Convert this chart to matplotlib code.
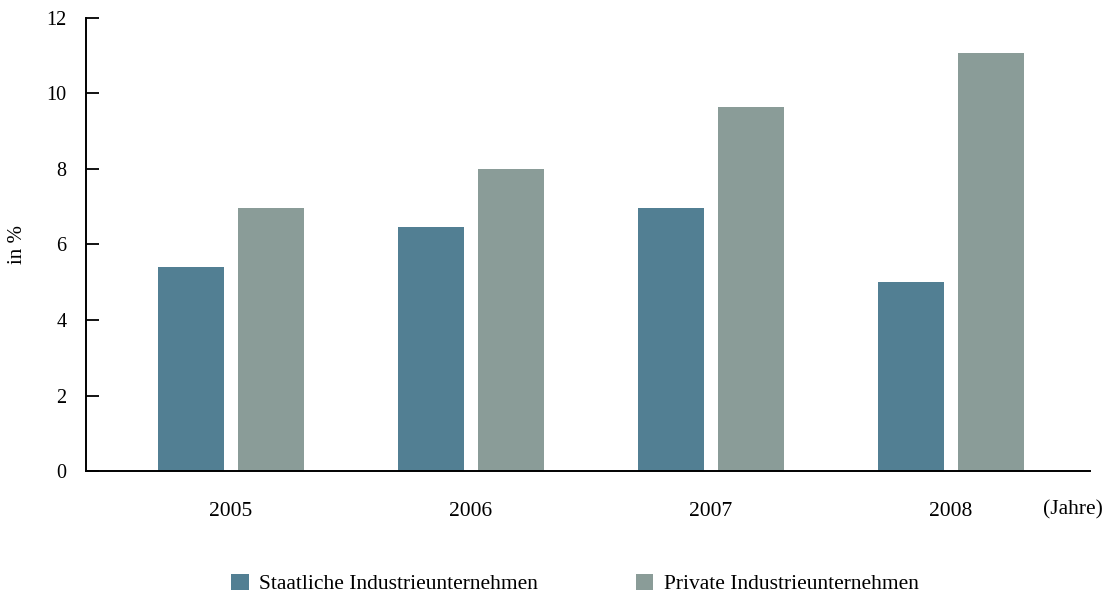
import numpy as np
import matplotlib
matplotlib.use('Agg')
import matplotlib.pyplot as plt

# Data
years = ['2005', '2006', '2007', '2008']
staatlich = [5.4, 6.45, 6.97, 5.0]
privat = [6.97, 8.0, 9.63, 11.07]
yticks = [0, 2, 4, 6, 8, 10, 12]

c_staat = '#527f93'
c_privat = '#8a9c98'

plt.rcParams['font.family'] = ['Liberation Serif', 'DejaVu Serif']
plt.rcParams['font.size'] = 15.5

fig = plt.figure(figsize=(11.04, 5.94), dpi=100)
ax = fig.add_axes([0.0779, 0.207, 0.9091, 0.763])

x = np.arange(len(years))
w = 0.275
off = 0.1667
ax.bar(x - off, staatlich, w, color=c_staat, label='Staatliche Industrieunternehmen')
ax.bar(x + off, privat, w, color=c_privat, label='Private Industrieunternehmen')

ax.set_xlim(-0.604, 3.579)
ax.set_ylim(0, 12)
ax.set_yticks(yticks)
ax.set_xticks(x)
ax.set_xticklabels(years)
ax.tick_params(axis='x', length=0, pad=22.5, labelsize=15.5)
ax.tick_params(axis='y', direction='in', length=9.5, width=1.3, pad=14, labelsize=14.5)

for s in ['top', 'right']:
    ax.spines[s].set_visible(False)
for s in ['left', 'bottom']:
    ax.spines[s].set_linewidth(1.4)

ax.set_ylabel('in %', labelpad=14, fontsize=15)
fig.text(1073 / 1104, 1 - 510 / 594, '(Jahre)', ha='center', va='center', fontsize=15.5)

fig.legend(loc='center', bbox_to_anchor=(0.521, 0.017), ncol=2, frameon=False,
           handlelength=0.8, handleheight=0.8, handletextpad=0.5, columnspacing=4.55,
           fontsize=15.5)

fig.savefig('out.png', dpi=100)
